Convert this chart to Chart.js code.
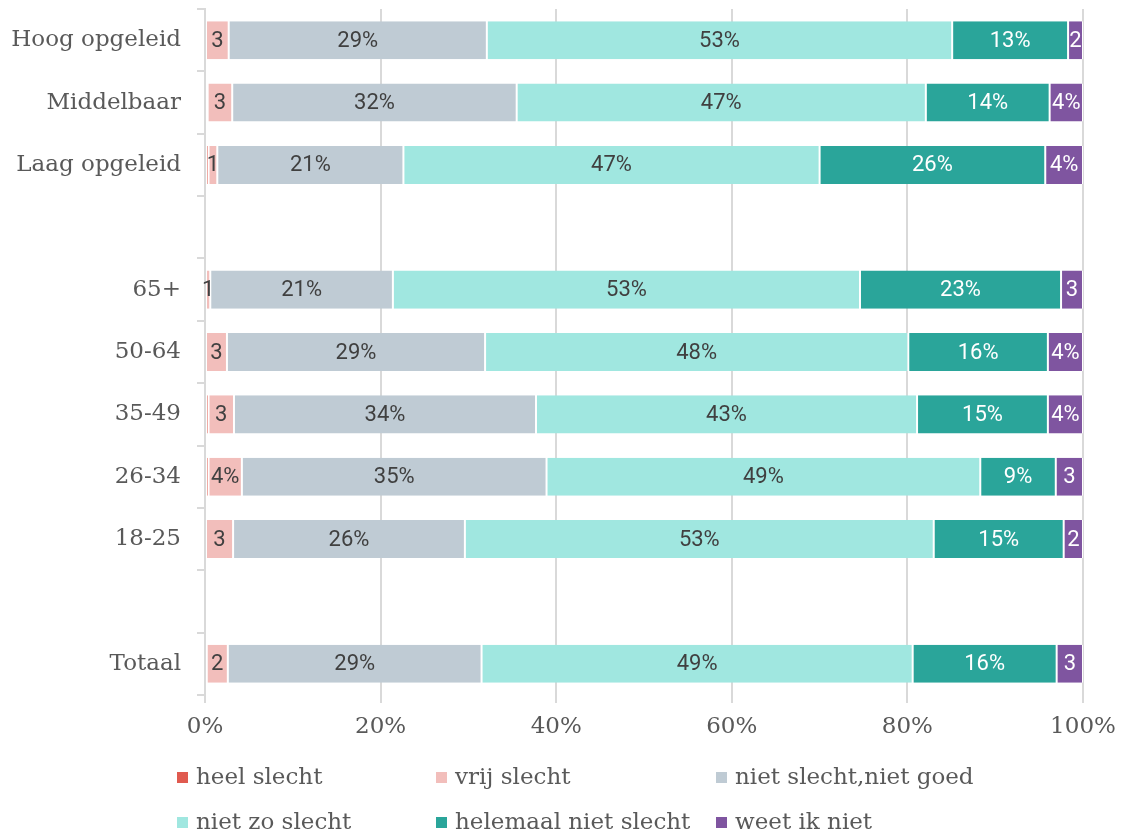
<!DOCTYPE html>
<html>
<head>
<meta charset="utf-8">
<script src="https://cdn.jsdelivr.net/npm/chart.js@4.4.1/dist/chart.umd.min.js"></script>
<style>
  body { margin: 0; background: #fff; }
  #wrap { width: 1123px; height: 839px; position: relative; }
</style>
</head>
<body>
<div id="wrap"><canvas id="chart"></canvas></div>
<script>
// categories (empty ones are spacer rows)
const categories = ['Hoog opgeleid', 'Middelbaar', 'Laag opgeleid', '', '65+', '50-64', '35-49', '26-34', '18-25', '', 'Totaal'];
const seriesNames = ['heel slecht', 'vrij slecht', 'niet slecht,niet goed', 'niet zo slecht', 'helemaal niet slecht', 'weet ik niet'];

const heelSlecht         = [0,    0.3,  0.4,  null, 0,    0,    0.4,  0.4,  0,    null, 0.2];
const vrijSlecht         = [2.7,  2.8,  1.0,  null, 0.6,  2.5,  2.9,  3.8,  3.2,  null, 2.4];
const nietSlechtNietGoed = [29.4, 32.4, 21.2, null, 20.8, 29.4, 34.4, 34.7, 26.4, null, 28.9];
const nietZoSlecht       = [53.0, 46.6, 47.4, null, 53.2, 48.2, 43.4, 49.4, 53.4, null, 49.1];
const helemaalNietSlecht = [13.2, 14.1, 25.7, null, 22.9, 15.9, 14.9, 8.6,  14.8, null, 16.4];
const weetIkNiet         = [1.7,  3.8,  4.3,  null, 2.5,  4.0,  4.0,  3.1,  2.2,  null, 3.0];

const xTicks = [0, 20, 40, 60, 80, 100];

const colors = ['#e05a4f', '#f2bebb', '#bfcbd4', '#a0e7e0', '#2aa59a', '#7f55a0'];
const labelColors = ['#404040', '#404040', '#404040', '#404040', '#ffffff', '#ffffff'];
const serif = '"DejaVu Serif", serif';

const allSeries = [heelSlecht, vrijSlecht, nietSlechtNietGoed, nietZoSlecht, helemaalNietSlecht, weetIkNiet];

const datasets = allSeries.map((d, i) => ({
  label: seriesNames[i],
  data: d,
  backgroundColor: colors[i],
  borderColor: '#ffffff',
  borderWidth: { top: 0, bottom: 0, left: 1, right: 1 },
  borderSkipped: false,
  categoryPercentage: 1,
  barPercentage: 0.61
}));

// value labels inside the segments
const barLabels = {
  id: 'barLabels',
  afterDatasetsDraw(chart) {
    const ctx = chart.ctx;
    ctx.save();
    ctx.font = '22px Roboto';
    ctx.textAlign = 'center';
    ctx.textBaseline = 'middle';
    chart.data.datasets.forEach((ds, i) => {
      const meta = chart.getDatasetMeta(i);
      meta.data.forEach((el, j) => {
        const v = ds.data[j];
        if (v == null) return;
        const r = Math.round(v);
        if (r < 1) return;
        const p = el.getProps(['x', 'base', 'y'], true);
        const w = Math.abs(p.x - p.base);
        let txt = r + '%';
        if (ctx.measureText(txt).width > w - 1) txt = String(r);
        ctx.fillStyle = labelColors[i];
        ctx.fillText(txt, (p.x + p.base) / 2, p.y + 1);
      });
    });
    ctx.restore();
  }
};

// legend in three columns below the chart
const gridLegend = {
  id: 'gridLegend',
  afterDraw(chart) {
    const ctx = chart.ctx;
    const colX = [177, 436, 716];
    const rowY = [777, 822];
    ctx.save();
    ctx.font = '23px ' + serif;
    ctx.textBaseline = 'middle';
    ctx.textAlign = 'left';
    chart.data.datasets.forEach((ds, i) => {
      const x = colX[i % 3];
      const y = rowY[Math.floor(i / 3)];
      ctx.fillStyle = ds.backgroundColor;
      ctx.fillRect(x, y - 5, 11, 11);
      ctx.fillStyle = '#595959';
      ctx.fillText(ds.label, x + 19, y + 1);
    });
    ctx.restore();
  }
};

new Chart(document.getElementById('chart'), {
  type: 'bar',
  data: { labels: categories, datasets: datasets },
  options: {
    indexAxis: 'y',
    responsive: true,
    maintainAspectRatio: false,
    animation: false,
    layout: { padding: { top: 9, right: 40, left: 0, bottom: 0 } },
    plugins: {
      legend: { display: false },
      tooltip: { enabled: false }
    },
    scales: {
      x: {
        stacked: true,
        min: 0,
        max: 100,
        afterBuildTicks: (scale) => { scale.ticks = xTicks.map(v => ({ value: v })); },
        afterFit: (scale) => { scale.height = 144; scale.paddingLeft = 0; scale.paddingRight = 0; },
        ticks: {
          callback: v => v + '%',
          font: { family: serif, size: 23 },
          color: '#595959',
          padding: 10,
          maxRotation: 0
        },
        grid: { color: '#d9d9d9', lineWidth: 2, tickLength: 8 },
        border: { display: false }
      },
      y: {
        stacked: true,
        afterFit: (scale) => { scale.width = 205; scale.paddingTop = 0; scale.paddingBottom = 0; },
        ticks: {
          font: { family: serif, size: 23 },
          color: '#595959',
          padding: 16
        },
        grid: { color: '#d9d9d9', lineWidth: 2, drawOnChartArea: false, tickLength: 8, offset: true },
        border: { display: true, color: '#d9d9d9', width: 2 }
      }
    }
  },
  plugins: [barLabels, gridLegend]
});
</script>
</body>
</html>
